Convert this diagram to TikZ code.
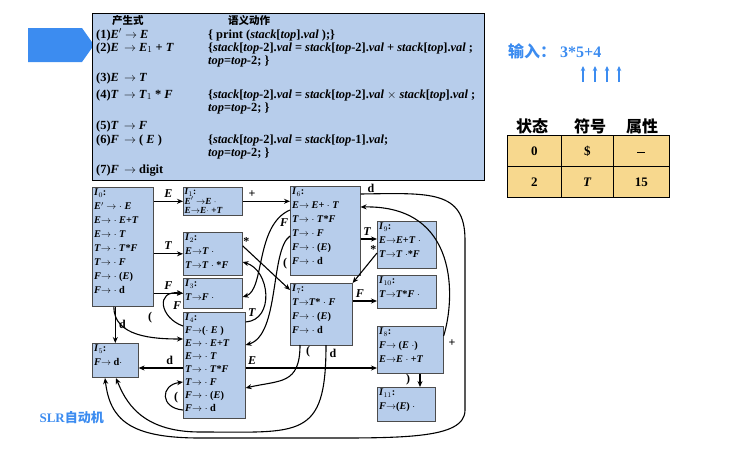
\documentclass[tikz,border=0pt]{standalone}
\usepackage{fontspec}
\setmainfont{Liberation Serif}
\newfontfamily\cjk{Noto Sans CJK SC}
\usetikzlibrary{arrows.meta}
\definecolor{boxblue}{RGB}{183,205,235}
\definecolor{tabfill}{RGB}{247,216,142}
\definecolor{txtblue}{RGB}{60,140,240}
\tikzset{
 st/.style={draw=black!70,fill=boxblue,line width=0.6pt,anchor=north west,inner sep=0pt},
 sx/.style={anchor=north west,inner sep=2pt,align=left,font=\fontsize{10.3}{14}\selectfont\bfseries},
 ed/.style={-{Stealth[length=6pt,width=5pt]},line width=1.1pt},
 lb/.style={font=\fontsize{12}{12}\selectfont\bfseries},
 pl/.style={anchor=base west,inner sep=0pt,font=\fontsize{12.4}{13}\selectfont\bfseries},
 tc/.style={draw=black,fill=tabfill,line width=0.8pt,minimum width=54pt,minimum height=31pt,font=\fontsize{13}{13}\selectfont\bfseries}
}
\begin{document}
\begin{tikzpicture}[x=1pt,y=-1pt]
\useasboundingbox (0,0) rectangle (736,458);
\fill[txtblue] (28,28) -- (82,28) -- (94,45) -- (82,62) -- (28,62) -- cycle;
\node[draw=black,fill=boxblue,line width=0.8pt,minimum width=392pt,minimum height=167pt,anchor=north west,inner sep=0pt] (pbox) at (92,13) {};
\node[pl] (h1) at (112,24) {\cjk\fontsize{10.5}{11}\selectfont 产生式};
\node[pl] (h2) at (228,24) {\cjk\fontsize{10.5}{11}\selectfont 语义动作};
\node[pl] (p1) at (96,38) {(1)\textit{E}$'$ $\rightarrow$ \textit{E}};
\node[pl] (a1) at (208,38) {\{ print (\textit{stack}[\textit{top}].\textit{val} );\}};
\node[pl] (p2) at (96,51) {(2)\textit{E} \,$\rightarrow$ \textit{E}$_1$ + \textit{T}};
\node[pl] (a2) at (208,51) {\{\textit{stack}[\textit{top}-2].\textit{val} = \textit{stack}[\textit{top}-2].\textit{val} + \textit{stack}[\textit{top}].\textit{val} ;};
\node[pl] (a2b) at (208,64) {\textit{top}=\textit{top}-2; \}};
\node[pl] (p3) at (96,81) {(3)\textit{E} \,$\rightarrow$ \textit{T}};
\node[pl] (p4) at (96,98) {(4)\textit{T} \,$\rightarrow$ \textit{T}$_1$ * \textit{F}};
\node[pl] (a4) at (208,98) {\{\textit{stack}[\textit{top}-2].\textit{val} = \textit{stack}[\textit{top}-2].\textit{val} $\times$ \textit{stack}[\textit{top}].\textit{val} ;};
\node[pl] (a4b) at (208,111) {\textit{top}=\textit{top}-2; \}};
\node[pl] (p5) at (96,129) {(5)\textit{T} \,$\rightarrow$ \textit{F}};
\node[pl] (p6) at (96,143) {(6)\textit{F} \,$\rightarrow$ ( \textit{E} )};
\node[pl] (a6) at (208,143) {\{\textit{stack}[\textit{top}-2].\textit{val} = \textit{stack}[\textit{top}-1].\textit{val};};
\node[pl] (a6b) at (208,156) {\textit{top}=\textit{top}-2; \}};
\node[pl] (p7) at (96,173) {(7)\textit{F} \,$\rightarrow$ digit};
% input
\node[anchor=base west,inner sep=0pt,text=txtblue,font=\fontsize{16}{16}\selectfont\bfseries] (inp) at (508,57) {{\cjk 输入：}\ 3*5+4};
\foreach \i/\xx in {1/583,2/595,3/607,4/619}{\coordinate (u\i) at (\xx,66); \coordinate (d\i) at (\xx,82); \draw[txtblue,line width=1.4pt,-{Stealth[length=5pt,width=4.5pt]}] (d\i) -- (u\i);}
% table
\node[anchor=base,inner sep=0pt,font=\fontsize{16}{16}\selectfont\bfseries\cjk] (th1) at (532,132) {状态};
\node[anchor=base,inner sep=0pt,font=\fontsize{16}{16}\selectfont\bfseries\cjk] (th2) at (590,132) {符号};
\node[anchor=base,inner sep=0pt,font=\fontsize{16}{16}\selectfont\bfseries\cjk] (th3) at (642,132) {属性};
\node[tc,anchor=north west] (t11) at (507,135) {0};
\node[tc,anchor=north west,minimum width=52pt] (t12) at (561,135) {\$};
\node[tc,anchor=north west,minimum width=56pt] (t13) at (613,135) {\rule[-5pt]{8pt}{1.2pt}};
\node[tc,anchor=north west] (t21) at (507,166) {2};
\node[tc,anchor=north west,minimum width=52pt] (t22) at (561,166) {\textit{T}};
\node[tc,anchor=north west,minimum width=56pt] (t23) at (613,166) {15};
% states
\node[st,minimum width=61pt,minimum height=119pt] (I0) at (92,187) {};
\node[sx] (I0t) at (I0.north west) {\textit{I}$_0$:\\\textit{E}$'$ $\rightarrow\cdot$ \textit{E}\\\textit{E}$\rightarrow\cdot$ \textit{E}+\textit{T}\\\textit{E}$\rightarrow\cdot$ \textit{T}\\\textit{T}$\rightarrow\cdot$ \textit{T}*\textit{F}\\\textit{T}$\rightarrow\cdot$ \textit{F}\\\textit{F}$\rightarrow\cdot$ (\textit{E})\\\textit{F}$\rightarrow\cdot$ d};
\node[st,minimum width=59pt,minimum height=28pt] (I1) at (183,187) {};
\node[sx,font=\fontsize{9.3}{9.5}\selectfont\bfseries,inner sep=1.5pt] (I1t) at (I1.north west) {\textit{I}$_1$:\\\textit{E}$'$ $\rightarrow$\textit{E} $\cdot$\\\textit{E}$\rightarrow$\textit{E}$\cdot$ +\textit{T}};
\node[st,minimum width=59pt,minimum height=43pt] (I2) at (183,232) {};
\node[sx] (I2t) at (I2.north west) {\textit{I}$_2$:\\\textit{E}$\rightarrow$\textit{T} $\cdot$\\\textit{T}$\rightarrow$\textit{T} $\cdot$ *\textit{F}};
\node[st,minimum width=59pt,minimum height=30pt] (I3) at (183,278) {};
\node[sx] (I3t) at (I3.north west) {\textit{I}$_3$:\\\textit{T}$\rightarrow$\textit{F} $\cdot$};
\node[st,minimum width=62pt,minimum height=106pt] (I4) at (183,312) {};
\node[sx,font=\fontsize{10.3}{13}\selectfont\bfseries] (I4t) at (I4.north west) {\textit{I}$_4$:\\\textit{F}$\rightarrow$($\cdot$ \textit{E} )\\\textit{E}$\rightarrow\cdot$ \textit{E}+\textit{T}\\\textit{E}$\rightarrow\cdot$ \textit{T}\\\textit{T}$\rightarrow\cdot$ \textit{T}*\textit{F}\\\textit{T}$\rightarrow\cdot$ \textit{F}\\\textit{F}$\rightarrow\cdot$ (\textit{E})\\\textit{F}$\rightarrow\cdot$ d};
\node[st,minimum width=46pt,minimum height=34pt] (I5) at (92,343) {};
\node[sx] (I5t) at (I5.north west) {\textit{I}$_5$:\\\textit{F}$\rightarrow$ d$\cdot$};
\node[st,minimum width=70pt,minimum height=89pt] (I6) at (290,186) {};
\node[sx] (I6t) at (I6.north west) {\textit{I}$_6$:\\\textit{E}$\rightarrow$ \textit{E}+ $\cdot$ \textit{T}\\\textit{T}$\rightarrow\cdot$ \textit{T}*\textit{F}\\\textit{T}$\rightarrow\cdot$ \textit{F}\\\textit{F}$\rightarrow\cdot$ (\textit{E})\\\textit{F}$\rightarrow\cdot$ d};
\node[st,minimum width=62pt,minimum height=62pt] (I7) at (290,283) {};
\node[sx] (I7t) at (I7.north west) {\textit{I}$_7$:\\\textit{T}$\rightarrow$\textit{T}* $\cdot$ \textit{F}\\\textit{F}$\rightarrow\cdot$ (\textit{E})\\\textit{F}$\rightarrow\cdot$ d};
\node[st,minimum width=59pt,minimum height=47pt] (I9) at (377,221) {};
\node[sx] (I9t) at (I9.north west) {\textit{I}$_9$:\\\textit{E}$\rightarrow$\textit{E}+\textit{T} $\cdot$\\\textit{T}$\rightarrow$\textit{T} $\cdot$*\textit{F}};
\node[st,minimum width=59pt,minimum height=33pt] (I10) at (377,275) {};
\node[sx] (I10t) at (I10.north west) {\textit{I}$_{10}$:\\\textit{T}$\rightarrow$\textit{T}*\textit{F} $\cdot$};
\node[st,minimum width=66pt,minimum height=47pt] (I8) at (377,326) {};
\node[sx] (I8t) at (I8.north west) {\textit{I}$_8$:\\\textit{F}$\rightarrow$ (\textit{E} $\cdot$)\\\textit{E}$\rightarrow$\textit{E} $\cdot$ +\textit{T}};
\node[st,minimum width=58pt,minimum height=34pt] (I11) at (377,387) {};
\node[sx] (I11t) at (I11.north west) {\textit{I}$_{11}$:\\\textit{F}$\rightarrow$(\textit{E}) $\cdot$};
\node[anchor=west,text=txtblue,font=\fontsize{13}{13}\selectfont\bfseries] (slr) at (36,418) {SLR{\cjk 自动机}};
% edges
\draw[ed] (I0.east |- I1.west) -- node[lb,above]{\textit{E}} (I1.west);
\draw[ed] (I0.east |- I2.west) -- node[lb,above]{\textit{T}} (I2.west);
\draw[ed] (I0.east |- I3.west) -- node[lb,above]{\textit{F}} (I3.west);
\draw[ed] (I0.south -| I5.north) -- node[lb,right]{d} (I5.north);
\draw[ed] (I0.south) ++(-9,0) .. controls +(0,30) and +(-30,0) .. (I4.west |- 0,339);
\node[lb] (lp0) at (150,318) {(};
\draw[ed] (I1.east) -- node[lb,above,pos=0.2]{+} (I6.west |- I1.east);
\draw[ed] (I2.east) ++(0,-8) -- node[lb,above,pos=0.08]{*} (I7.west |- 0,290);
\draw[ed] (I4.west |- 0,326) .. controls (160,318) and (155,290) .. (I3.west);
\node[lb] (lf4) at (177,306) {\textit{F}};
\draw[ed] (I4.east |- 0,322) .. controls (275,320) and (270,270) .. (I2.east |- 0,262);
\node[lb] (lt4) at (252,313) {\textit{T}};
\draw[ed] (I4.west |- 0,410) .. controls (160,408) and (160,385) .. (I4.west |- 0,382);
\node[lb] (lp4) at (176,398) {(};
\draw[ed] (I4.west |- 0,368) -- node[lb,above,pos=0.3]{d} (I5.east |- 0,368);
\draw[ed] (I4.east |- 0,368) -- node[lb,above,pos=0.05]{\textit{E}} (I8.west |- 0,368);
\draw[ed] (I6.west |- 0,210) .. controls (255,225) and (265,290) .. (I3.east |- 0,297);
\node[lb] (lf6) at (284,223) {\textit{F}};
\draw[ed] (I6.west |- 0,236) .. controls (270,250) and (280,335) .. (I4.east |- 0,345);
\node[lb] (lp6) at (285,264) {(};
\draw[ed] (I6.east |- 0,239) -- node[lb,above,pos=0.4]{\textit{T}} (I9.west |- 0,239);
\draw[ed] (I9.west |- 0,253) -- node[lb,above,pos=0.15]{*} (I7.north east);
\draw[ed] (I7.east |- 0,301) -- node[lb,above,pos=0.3]{\textit{F}} (I10.west |- 0,301);
\draw[ed] (300,345) .. controls (300,385) and (280,380) .. (I4.east |- 0,388);
\node[lb] (lp7) at (308,352) {(};
\draw[ed] (326,345) .. controls (326,440) and (300,432) .. (200,432) .. controls (140,432) and (125,400) .. (116,378);
\node[lb] (ld7) at (333,353) {d};
\draw[ed] (I6.north east) ++(0,8) .. controls (430,193) and (465,190) .. (465,240) -- (465,410) .. controls (465,440) and (400,438) .. (300,438) -- (200,438) .. controls (130,438) and (110,420) .. (105,378);
\node[lb] (ld6) at (371,188) {d};
\draw[ed] (I8.north east) ++(0,10) .. controls (455,300) and (460,205) .. (I6.east |- 0,207);
\node[lb] (lp8) at (452,343) {+};
\draw[ed] (I8.south -| 420,0) -- (I11.north -| 420,0);
\node[lb] (lrp) at (408,380) {)};
\end{tikzpicture}
\end{document}
